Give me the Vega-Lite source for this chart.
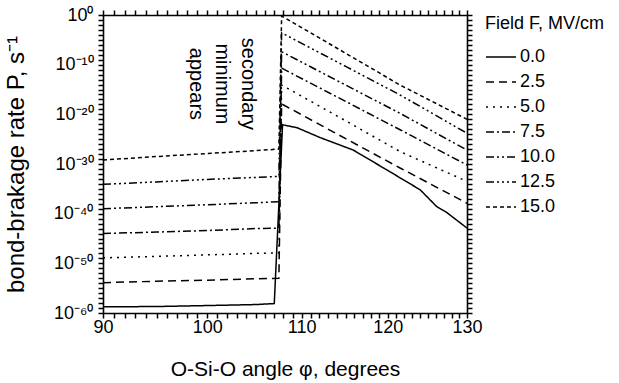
{
  "$schema": "https://vega.github.io/schema/vega-lite/v6.json",
  "width": 364,
  "height": 298,
  "autosize": {"type": "none"},
  "padding": {"left": 103, "top": 15, "right": 152, "bottom": 70},
  "background": "white",
  "config": {
    "font": "Liberation Sans",
    "view": {"stroke": null},
    "axis": {
      "grid": false,
      "domain": true,
      "domainColor": "black",
      "domainWidth": 1.6,
      "labelColor": "black",
      "titleColor": "black",
      "labelFont": "Liberation Sans",
      "titleFont": "Liberation Sans",
      "titleFontWeight": "normal",
      "labelFlush": false,
      "labelOverlap": false,
      "labelBound": false
    },
    "legend": {
      "labelFont": "Liberation Sans",
      "titleFont": "Liberation Sans",
      "labelColor": "black",
      "titleColor": "black"
    }
  },
  "datasets": {
    "curves": [
      {"F": "0.0", "angle": 90, "P": 1.78e-59},
      {"F": "0.0", "angle": 95, "P": 2.0e-59},
      {"F": "0.0", "angle": 100, "P": 3.16e-59},
      {"F": "0.0", "angle": 105, "P": 5.0e-59},
      {"F": "0.0", "angle": 107.0, "P": 7.9e-59},
      {"F": "0.0", "angle": 107.9, "P": 7.9e-23},
      {"F": "0.0", "angle": 109.5, "P": 2.0e-23},
      {"F": "0.0", "angle": 112.1, "P": 2.0e-25},
      {"F": "0.0", "angle": 115.9, "P": 6.3e-28},
      {"F": "0.0", "angle": 119.9, "P": 6.3e-32},
      {"F": "0.0", "angle": 124.0, "P": 6.3e-36},
      {"F": "0.0", "angle": 126.1, "P": 2.5e-39},
      {"F": "0.0", "angle": 127.4, "P": 1.58e-40},
      {"F": "0.0", "angle": 130, "P": 1.26e-43},

      {"F": "2.5", "angle": 90, "P": 1.26e-54},
      {"F": "2.5", "angle": 95, "P": 2.5e-54},
      {"F": "2.5", "angle": 100, "P": 4.0e-54},
      {"F": "2.5", "angle": 105, "P": 7.9e-54},
      {"F": "2.5", "angle": 107.5, "P": 1.0e-53},
      {"F": "2.5", "angle": 107.8, "P": 1.26e-18},
      {"F": "2.5", "angle": 115, "P": 1.26e-25},
      {"F": "2.5", "angle": 121.5, "P": 1.58e-31},
      {"F": "2.5", "angle": 130, "P": 1.26e-38},

      {"F": "5.0", "angle": 90, "P": 1.26e-49},
      {"F": "5.0", "angle": 95, "P": 2.5e-49},
      {"F": "5.0", "angle": 100, "P": 5.0e-49},
      {"F": "5.0", "angle": 105, "P": 1.0e-48},
      {"F": "5.0", "angle": 107.5, "P": 1.26e-48},
      {"F": "5.0", "angle": 107.8, "P": 7.9e-15},
      {"F": "5.0", "angle": 115, "P": 5.0e-22},
      {"F": "5.0", "angle": 121.5, "P": 3.16e-28},
      {"F": "5.0", "angle": 130, "P": 3.16e-34},

      {"F": "7.5", "angle": 90, "P": 1.0e-44},
      {"F": "7.5", "angle": 95, "P": 2.0e-44},
      {"F": "7.5", "angle": 100, "P": 4.0e-44},
      {"F": "7.5", "angle": 105, "P": 1.0e-43},
      {"F": "7.5", "angle": 107.5, "P": 1.26e-43},
      {"F": "7.5", "angle": 107.8, "P": 2.0e-11},
      {"F": "7.5", "angle": 115, "P": 4.0e-18},
      {"F": "7.5", "angle": 121.5, "P": 7.9e-24},
      {"F": "7.5", "angle": 130, "P": 6.3e-31},

      {"F": "10.0", "angle": 90, "P": 1.0e-39},
      {"F": "10.0", "angle": 95, "P": 2.5e-39},
      {"F": "10.0", "angle": 100, "P": 6.3e-39},
      {"F": "10.0", "angle": 105, "P": 1.58e-38},
      {"F": "10.0", "angle": 107.5, "P": 2.5e-38},
      {"F": "10.0", "angle": 107.8, "P": 4.0e-8},
      {"F": "10.0", "angle": 115, "P": 7.9e-15},
      {"F": "10.0", "angle": 121.5, "P": 1.58e-20},
      {"F": "10.0", "angle": 130, "P": 6.3e-28},

      {"F": "12.5", "angle": 90, "P": 7.9e-35},
      {"F": "12.5", "angle": 95, "P": 2.5e-34},
      {"F": "12.5", "angle": 100, "P": 7.9e-34},
      {"F": "12.5", "angle": 105, "P": 2.0e-33},
      {"F": "12.5", "angle": 107.5, "P": 3.16e-33},
      {"F": "12.5", "angle": 107.8, "P": 2.5e-4},
      {"F": "12.5", "angle": 115, "P": 4.5e-11},
      {"F": "12.5", "angle": 121.5, "P": 7.9e-17},
      {"F": "12.5", "angle": 130, "P": 1.58e-24},

      {"F": "15.0", "angle": 90, "P": 6.3e-30},
      {"F": "15.0", "angle": 95, "P": 3.16e-29},
      {"F": "15.0", "angle": 100, "P": 1.26e-28},
      {"F": "15.0", "angle": 105, "P": 5.0e-28},
      {"F": "15.0", "angle": 107.5, "P": 1.0e-27},
      {"F": "15.0", "angle": 107.8, "P": 0.63},
      {"F": "15.0", "angle": 115, "P": 2.0e-8},
      {"F": "15.0", "angle": 121.5, "P": 7.9e-15},
      {"F": "15.0", "angle": 130, "P": 1.0e-21}
    ],
    "note": [
      {"angle": 104.2, "P": 1.3e-14, "label": ["secondary", "minimum", "appears"]}
    ]
  },
  "layer": [
    {
      "data": {"name": "curves"},
      "mark": {"type": "line", "color": "black", "strokeWidth": 1.5, "clip": true},
      "encoding": {
        "x": {
          "field": "angle",
          "type": "quantitative",
          "scale": {"type": "log", "domain": [90, 130], "nice": false},
          "axis": {
            "orient": "bottom",
            "values": [90,91,92,93,94,95,96,97,98,99,100,101,102,103,104,105,106,107,108,109,110,111,112,113,114,115,116,117,118,119,120,121,122,123,124,125,126,127,128,129,130],
            "labelExpr": "datum.value % 10 === 0 ? format(datum.value, 'd') : ''",
            "ticks": true,
            "tickColor": "black",
            "tickWidth": 1.5,
            "tickSize": 5,
            "labelFontSize": 18,
            "labelPadding": 0,
            "title": "O-Si-O angle φ, degrees",
            "titleFontSize": 21,
            "titleBaseline": "alphabetic",
            "titleY": 62
          }
        },
        "y": {
          "field": "P",
          "type": "quantitative",
          "scale": {"type": "log", "domain": [1e-60, 1], "nice": false},
          "axis": {
            "orient": "left",
            "values": [1e-60,1e-59,1e-58,1e-57,1e-56,1e-55,1e-54,1e-53,1e-52,1e-51,1e-50,1e-49,1e-48,1e-47,1e-46,1e-45,1e-44,1e-43,1e-42,1e-41,1e-40,1e-39,1e-38,1e-37,1e-36,1e-35,1e-34,1e-33,1e-32,1e-31,1e-30,1e-29,1e-28,1e-27,1e-26,1e-25,1e-24,1e-23,1e-22,1e-21,1e-20,1e-19,1e-18,1e-17,1e-16,1e-15,1e-14,1e-13,1e-12,1e-11,1e-10,1e-9,1e-8,1e-7,1e-6,1e-5,1e-4,1e-3,1e-2,1e-1,1],
            "labelExpr": "(round(log(datum.value)/LN10) % 10 !== 0) ? '' : (round(log(datum.value)/LN10) === 0 ? '10⁰' : '10⁻' + ['','¹','²','³','⁴','⁵','⁶'][abs(round(log(datum.value)/LN10))/10] + '⁰')",
            "ticks": true,
            "tickColor": "black",
            "tickWidth": 1.5,
            "tickSize": 5,
            "labelFontSize": 18,
            "labelPadding": 5,
            "title": "bond-brakage rate P, s⁻¹",
            "titleFontSize": 24,
            "titleX": -75
          }
        },
        "strokeDash": {
          "field": "F",
          "type": "nominal",
          "scale": {
            "domain": ["0.0", "2.5", "5.0", "7.5", "10.0", "12.5", "15.0"],
            "range": [[1, 0], [8, 5], [2, 5], [8, 3, 2, 3], [8, 3, 2, 3, 2, 3], [8, 3, 2, 3, 2, 3, 2, 3], [4, 3]]
          },
          "legend": {
            "title": "Field F, MV/cm",
            "orient": "right",
            "offset": 12,
            "titleFontSize": 18,
            "titleFontWeight": "normal",
            "titlePadding": 8,
            "labelFontSize": 18,
            "symbolType": "stroke",
            "symbolSize": 900,
            "symbolStrokeWidth": 1.5,
            "symbolStrokeColor": "black",
            "rowPadding": 0,
            "labelOffset": 3
          }
        }
      }
    },
    {
      "data": {"name": "note"},
      "mark": {"type": "text", "angle": 90, "align": "center", "baseline": "middle", "fontSize": 20, "lineHeight": 26, "color": "black"},
      "encoding": {
        "x": {
          "field": "angle",
          "type": "quantitative",
          "scale": {"type": "log", "domain": [90, 130], "nice": false},
          "axis": {
            "orient": "top",
            "values": [90,91,92,93,94,95,96,97,98,99,100,101,102,103,104,105,106,107,108,109,110,111,112,113,114,115,116,117,118,119,120,121,122,123,124,125,126,127,128,129,130],
            "labels": false,
            "ticks": true,
            "tickColor": "black",
            "tickWidth": 1.5,
            "tickSize": 5,
            "title": null
          }
        },
        "y": {
          "field": "P",
          "type": "quantitative",
          "scale": {"type": "log", "domain": [1e-60, 1], "nice": false},
          "axis": {
            "orient": "right",
            "values": [1e-60,1e-59,1e-58,1e-57,1e-56,1e-55,1e-54,1e-53,1e-52,1e-51,1e-50,1e-49,1e-48,1e-47,1e-46,1e-45,1e-44,1e-43,1e-42,1e-41,1e-40,1e-39,1e-38,1e-37,1e-36,1e-35,1e-34,1e-33,1e-32,1e-31,1e-30,1e-29,1e-28,1e-27,1e-26,1e-25,1e-24,1e-23,1e-22,1e-21,1e-20,1e-19,1e-18,1e-17,1e-16,1e-15,1e-14,1e-13,1e-12,1e-11,1e-10,1e-9,1e-8,1e-7,1e-6,1e-5,1e-4,1e-3,1e-2,1e-1,1],
            "labels": false,
            "ticks": true,
            "tickColor": "black",
            "tickWidth": 1.5,
            "tickSize": 5,
            "title": null
          }
        },
        "text": {"field": "label"}
      }
    }
  ],
  "resolve": {"axis": {"x": "independent", "y": "independent"}}
}
